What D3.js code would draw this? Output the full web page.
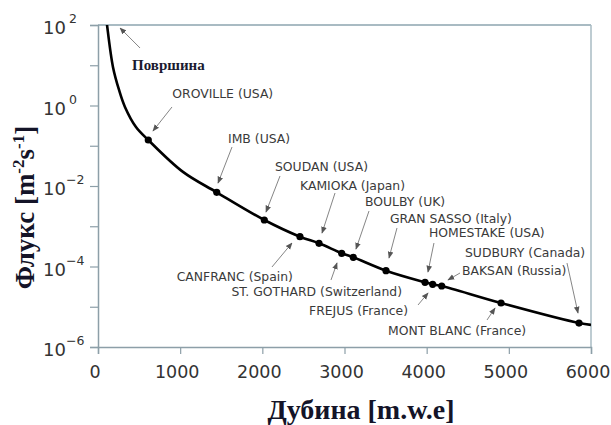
<!DOCTYPE html>
<html>
<head>
<meta charset="utf-8">
<script src="https://cdn.jsdelivr.net/npm/d3@7"></script>
<style>
  html, body { margin: 0; padding: 0; background: #ffffff; }
  svg { display: block; }
</style>
</head>
<body>
<div id="chart"></div>
<script>
// ---------- data ----------
const siteNames = ["OROVILLE (USA)", "IMB (USA)", "SOUDAN (USA)", "CANFRANC (Spain)", "KAMIOKA (Japan)",
  "ST. GOTHARD (Switzerland)", "BOULBY (UK)", "GRAN SASSO (Italy)", "FREJUS (France)", "HOMESTAKE (USA)",
  "BAKSAN (Russia)", "MONT BLANC (France)", "SUDBURY (Canada)"];
const siteDepth = [612, 1445, 2024, 2458, 2690, 2966, 3107, 3505, 3980, 4073, 4183, 4905, 5854];
const siteFlux = [0.139, 0.00697, 0.00143, 5.5e-4, 3.77e-4, 2.13e-4, 1.69e-4, 7.87e-5, 4.05e-5, 3.61e-5, 3.28e-5, 1.24e-5, 3.94e-6];

const curveDepth = [90, 110, 182, 256, 328, 462, 612, 1034, 1445, 2024, 2458, 2690, 2966, 3107, 3505, 3980, 4073, 4183, 4905, 5854, 6000];
const curveFlux = [230, 100, 9.1, 2.43, 0.92, 0.292, 0.139, 0.0224, 0.00697, 0.00143, 5.5e-4, 3.77e-4, 2.13e-4, 1.69e-4, 7.87e-5, 4.05e-5, 3.61e-5, 3.28e-5, 1.24e-5, 3.94e-6, 3.55e-6];

const xTicks = [0, 1000, 2000, 3000, 4000, 5000, 6000];
const yMajorExp = [2, 0, -2, -4, -6];
const yMinorExp = [1, -1, -3, -5];

const surfaceLabel = "Површина";
const xTitle = "Дубина [m.w.e]";
const yTitleMain = "Флукс [m";

// ---------- layout (annotation offsets relative to each point, px) ----------
// [anchor, labelDx, labelDy, arrowFromDx, arrowFromDy, arrowToDx, arrowToDy]
const siteLayout = [
  ["start", 24, -41.5, 23.7, -33, 4.7, -9],
  ["start", 11.3, -49, 15.3, -45.3, 1.3, -9.3],
  ["start", 10.7, -48.5, 15.7, -44, 1.7, -8],
  ["end", -7, 43.8, -28, 30.3, -8, 6.3],
  ["start", -19, -53, 16, -50.3, 3, -10.3],
  ["end", 60.3, 43.2, -10.7, 26.7, -4.7, 9.7],
  ["start", 11.7, -51, 15.7, -46.3, 2.7, -8.3],
  ["start", 4, -48, 11, -42.7, 3, -12.7],
  ["end", -17, 33.2, -7, 22.7, 3, 10.7],
  ["start", -3.7, -47, 1.3, -41.3, -4.7, -12.3],
  ["start", 20.3, -10.5, 18.3, -13, 6.3, -6],
  ["start", -113, 32.5, -14, 17, -6, 5],
  ["start", -114, -66.5, -12, -60, -1, -10]
];

const W = 611, H = 425;
const margin = { left: 98, top: 25 };
const plotW = 591 - margin.left, plotH = 347 - margin.top;

const svg = d3.select("#chart").append("svg").attr("width", W).attr("height", H);

const x = d3.scaleLinear().domain([0, 6000]).range([margin.left, margin.left + plotW]);
const y = d3.scaleLog().domain([1e-6, 1e2]).range([margin.top + plotH, margin.top]);

const axisColor = "#8d9fa8";
const frameColor = "#a9bbc3";

const defs = svg.append("defs");
defs.append("clipPath").attr("id", "clip")
  .append("rect").attr("x", margin.left).attr("y", margin.top).attr("width", plotW).attr("height", plotH);
defs.append("marker").attr("id", "arrow").attr("viewBox", "0 0 10 10")
  .attr("refX", 9).attr("refY", 5).attr("markerWidth", 7).attr("markerHeight", 7)
  .attr("markerUnits", "userSpaceOnUse")
  .attr("orient", "auto")
  .append("path").attr("d", "M0,1 L10,5 L0,9 Z").attr("fill", "#555");

// frame top/right
svg.append("line").attr("x1", margin.left).attr("x2", margin.left + plotW)
  .attr("y1", margin.top).attr("y2", margin.top).attr("stroke", frameColor).attr("stroke-width", 2);
svg.append("line").attr("x1", margin.left + plotW).attr("x2", margin.left + plotW)
  .attr("y1", margin.top).attr("y2", margin.top + plotH).attr("stroke", frameColor).attr("stroke-width", 1.5);

// x axis
const xAxis = d3.axisBottom(x).tickValues(xTicks).tickSize(7).tickPadding(12).tickFormat(d3.format("d"));
const gx = svg.append("g").attr("transform", `translate(0,${margin.top + plotH})`).call(xAxis);
gx.select(".domain").attr("stroke", axisColor).attr("stroke-width", 1.5);
gx.selectAll(".tick line").attr("stroke", axisColor).attr("stroke-width", 1.2);
gx.selectAll(".tick text").attr("fill", "#333").attr("dx", -3.5)
  .style("font-family", "'DejaVu Sans', sans-serif").style("font-size", "17.5px");

// y axis
const yAxis = d3.axisLeft(y).tickValues(yMajorExp.concat(yMinorExp).map(e => Math.pow(10, e)))
  .tickSize(8).tickFormat("");
const gy = svg.append("g").attr("transform", `translate(${margin.left},0)`).call(yAxis);
gy.select(".domain").attr("stroke", axisColor).attr("stroke-width", 1.5);
gy.selectAll(".tick line").attr("stroke", axisColor).attr("stroke-width", 1.2);

// y tick labels 10^n
const supText = e => (e < 0 ? "\u2212" + Math.abs(e) : String(e));
yMajorExp.forEach(e => {
  const t = svg.append("text").attr("x", 43).attr("y", y(Math.pow(10, e)) + 9)
    .attr("fill", "#333").style("font-family", "'DejaVu Sans', sans-serif").style("font-size", "18px");
  t.append("tspan").text("10");
  t.append("tspan").attr("dx", e < 0 ? 0 : 3).attr("dy", -11).style("font-size", "12.5px").text(supText(e));
});

// curve
const pts = curveDepth.map((d, i) => [x(d), y(curveFlux[i])]);
svg.append("path").attr("clip-path", "url(#clip)")
  .attr("d", d3.line().curve(d3.curveCatmullRom.alpha(0.5))(pts))
  .attr("fill", "none").attr("stroke", "#000").attr("stroke-width", 2.6);

// sites
const labelFont = "'DejaVu Sans', sans-serif";
siteNames.forEach((name, i) => {
  const px = x(siteDepth[i]), py = y(siteFlux[i]);
  const L = siteLayout[i];
  svg.append("circle").attr("cx", px).attr("cy", py).attr("r", 3.6).attr("fill", "#000");
  svg.append("line").attr("x1", px + L[3]).attr("y1", py + L[4]).attr("x2", px + L[5]).attr("y2", py + L[6])
    .attr("stroke", "#777").attr("stroke-width", 0.9).attr("marker-end", "url(#arrow)");
  svg.append("text").attr("x", px + L[1]).attr("y", py + L[2]).attr("text-anchor", L[0])
    .attr("fill", "#3a3a3a").style("font-family", labelFont).style("font-size", "12.4px").text(name);
});

// surface annotation
const sx = x(curveDepth[1]), sy = y(curveFlux[1]);
svg.append("line").attr("x1", sx + 33).attr("y1", sy + 23).attr("x2", sx + 13).attr("y2", sy + 3)
  .attr("stroke", "#777").attr("stroke-width", 0.9).attr("marker-end", "url(#arrow)");
svg.append("text").attr("x", sx + 25).attr("y", sy + 44.5)
  .attr("fill", "#1a1a30").style("font-family", "'Liberation Serif', 'Times New Roman', serif")
  .style("font-weight", "bold").style("font-size", "15px").text(surfaceLabel);

// axis titles
const serif = "'Liberation Serif', 'Times New Roman', serif";
svg.append("text").attr("x", 361).attr("y", 419).attr("text-anchor", "middle")
  .attr("fill", "#141428").style("font-family", serif).style("font-weight", "bold").style("font-size", "28px")
  .text(xTitle);

const yt = svg.append("text").attr("transform", "translate(34,207.5) rotate(-90)").attr("text-anchor", "middle")
  .attr("fill", "#141428").style("font-family", serif).style("font-weight", "bold").style("font-size", "27px");
yt.append("tspan").text(yTitleMain);
yt.append("tspan").attr("dy", -10).style("font-size", "17px").text("-2");
yt.append("tspan").attr("dy", 10).text("s");
yt.append("tspan").attr("dy", -10).style("font-size", "17px").text("-1");
yt.append("tspan").attr("dy", 10).text("]");
</script>
</body>
</html>
